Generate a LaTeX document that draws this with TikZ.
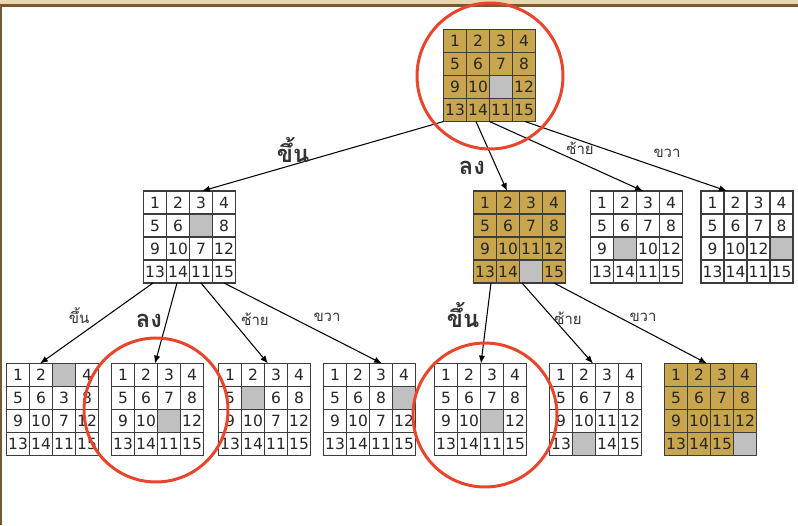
\documentclass[tikz,border=0pt]{standalone}
\usepackage{fontspec}
\setmainfont{DejaVu Sans}
\newfontfamily\thaifont[Script=Thai]{Loma}
\usetikzlibrary{positioning, calc, arrows.meta}
\definecolor{tilegold}{HTML}{C9A64E}
\definecolor{tileblank}{HTML}{C0C0C0}
\definecolor{ringred}{HTML}{E8462C}
\definecolor{gridgray}{HTML}{3C3C3C}
\definecolor{bandbeige}{HTML}{E8D8B2}
\definecolor{bandbrown}{HTML}{7A5A2C}

% one 4x4 board: [fill] name, centre, 16 tiles (0 = empty)
\newcommand{\puzzleboard}[4][white]{%
  \node[board] (#2) at (#3) {};
  \foreach \tval [count=\tidx from 0] in {#4} {
    \pgfmathtruncatemacro{\tcol}{mod(\tidx,4)}
    \pgfmathtruncatemacro{\trow}{div(\tidx,4)}
    \ifnum\tval=0
      \node[tile, fill=tileblank] (#2-\tidx) at ($(#2.north west)+(23*\tcol+11.5,23*\trow+11.5)$) {};
    \else
      \node[tile, fill=#1] (#2-\tidx) at ($(#2.north west)+(23*\tcol+11.5,23*\trow+11.5)$) {\tval};
    \fi
  }
}

\begin{document}
\begin{tikzpicture}[x=0.02cm, y=-0.02cm,
                board/.style={draw=gridgray, line width=0.7pt, rectangle, minimum size=1.84cm, inner sep=0pt, outer sep=0pt},
                tile/.style={draw=gridgray, line width=0.7pt, rectangle, minimum size=0.46cm, inner sep=0pt, outer sep=0pt, font=\fontsize{8.8}{8.8}\selectfont, text=black!85},
                edge/.style={-{Latex[length=4.5pt, width=3.6pt]}, line width=0.6pt},
                biglabel/.style={font=\thaifont\bfseries\fontsize{13.5}{13.5}\selectfont, text=black!80, inner sep=0pt},
                smalllabel/.style={font=\thaifont\fontsize{8.5}{8.5}\selectfont, text=black!80, inner sep=0pt},
                ring/.style={draw=ringred, line width=1.7pt}
            ]

            % Rahmen
            \useasboundingbox (0,0) rectangle (798,525);
            \fill[white] (0,0) rectangle (798,525);
            \fill[bandbeige] (0,0) rectangle (798,4);
            \fill[bandbrown] (0,4) rectangle (798,7);
            \fill[bandbrown] (0,7) rectangle (2,525);

            % Bretter
            \puzzleboard[tilegold]{root}{489.5,75.5}{1,2,3,4,5,6,7,8,9,10,0,12,13,14,11,15}
            \puzzleboard{up}{189.5,237}{1,2,3,4,5,6,0,8,9,10,7,12,13,14,11,15}
            \puzzleboard[tilegold]{down}{519.5,237}{1,2,3,4,5,6,7,8,9,10,11,12,13,14,0,15}
            \puzzleboard{left}{636.5,237}{1,2,3,4,5,6,7,8,9,0,10,12,13,14,11,15}
            \puzzleboard{right}{747,237}{1,2,3,4,5,6,7,8,9,10,12,0,13,14,11,15}
            \puzzleboard{upup}{52.5,409.5}{1,2,0,4,5,6,3,8,9,10,7,12,13,14,11,15}
            \puzzleboard{updown}{157.5,409.5}{1,2,3,4,5,6,7,8,9,10,0,12,13,14,11,15}
            \puzzleboard{upleft}{264.5,409.5}{1,2,3,4,5,0,6,8,9,10,7,12,13,14,11,15}
            \puzzleboard{upright}{369.5,409.5}{1,2,3,4,5,6,8,0,9,10,7,12,13,14,11,15}
            \puzzleboard{downup}{480.5,409.5}{1,2,3,4,5,6,7,8,9,10,0,12,13,14,11,15}
            \puzzleboard{downleft}{595.5,409.5}{1,2,3,4,5,6,7,8,9,10,11,12,13,0,14,15}
            \puzzleboard[tilegold]{downright}{710.5,409.5}{1,2,3,4,5,6,7,8,9,10,11,12,13,14,15,0}

            % Kanten zwischen Brettern
            \draw[edge] (root.south west) -- ($(up.north)+(12.5,0)$);
            \draw[edge] ($(root.south)+(-13.5,0)$) -- ($(down.north)+(-12.5,0)$);
            \draw[edge] (root.south) -- ($(left.north)+(6.5,0)$);
            \draw[edge] ($(root.south)+(35.5,0)$) -- ($(right.north)+(-20,0)$);
            \draw[edge] ($(up.south)+(-36.5,0)$) -- ($(upup.north)+(-12.5,0)$);
            \draw[edge] ($(up.south)+(-12.5,0)$) -- ($(updown.north)+(-2.5,0)$);
            \draw[edge] ($(up.south)+(11.5,0)$) -- ($(upleft.north)+(3.5,0)$);
            \draw[edge] ($(up.south)+(34.5,0)$) -- ($(upright.north)+(12.5,0)$);
            \draw[edge] ($(down.south)+(-28.5,0)$) -- ($(downup.north)+(0.5,0)$);
            \draw[edge] ($(down.south)+(2.5,0)$) -- ($(downleft.north)+(-2.5,0)$);
            \draw[edge] ($(down.south)+(34.5,0)$) -- ($(downright.north)+(-3.5,0)$);

            % Beschriftungen
            \node[biglabel] (lup) at (293,150) {ขึ้น};
            \node[biglabel] (ldown) at (472,168) {ลง};
            \node[smalllabel] (lleft) at (580,148) {ซ้าย};
            \node[smalllabel] (lright) at (667,153) {ขวา};
            \node[smalllabel] (lupup) at (79,316) {ขึ้น};
            \node[biglabel] (lupdown) at (149,321) {ลง};
            \node[smalllabel] (lupleft) at (255,319) {ซ้าย};
            \node[smalllabel] (lupright) at (327,317) {ขวา};
            \node[biglabel] (ldownup) at (463,315) {ขึ้น};
            \node[smalllabel] (ldownleft) at (568,318) {ซ้าย};
            \node[smalllabel] (ldownright) at (643,317) {ขวา};

            % Kreise
            \draw[ring] (490,76) circle (1.46cm);
            \draw[ring] (156,410) circle (1.44cm);
            \draw[ring] (485,415) circle (1.44cm);

        \end{tikzpicture}
\end{document}
